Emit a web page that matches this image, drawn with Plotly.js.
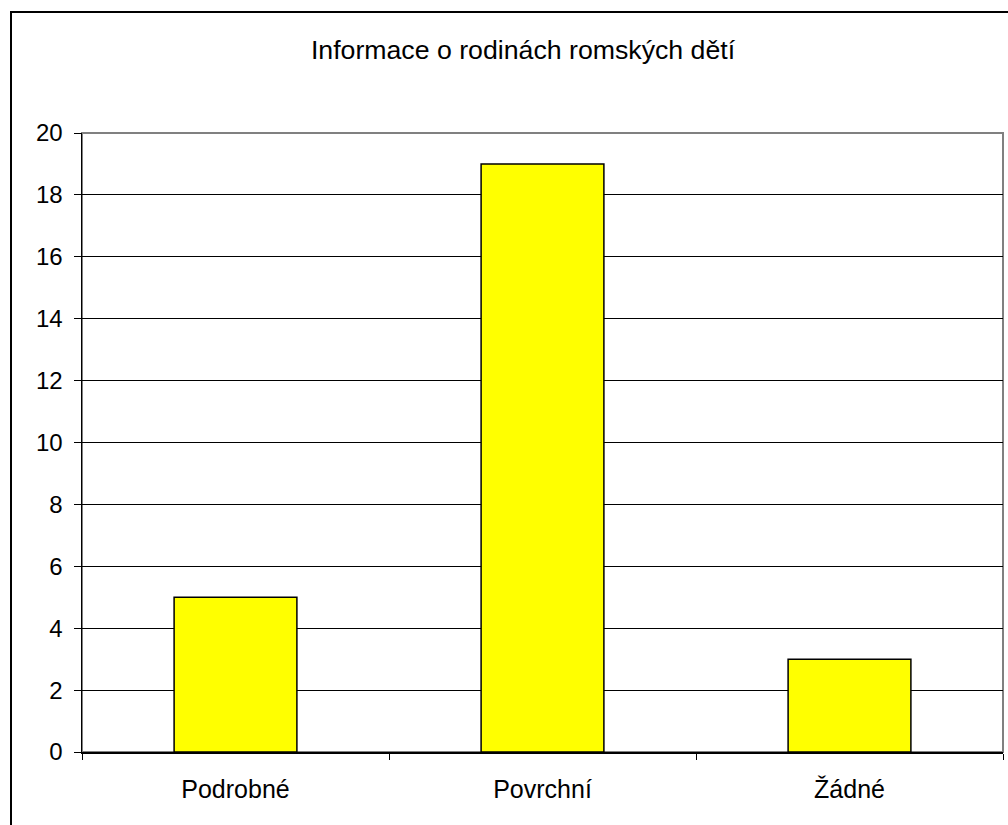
<!DOCTYPE html>
<html>
<head>
<meta charset="utf-8">
<script src="https://cdn.plot.ly/plotly-3.0.1.min.js"></script>
<style>
  html, body { margin: 0; padding: 0; overflow: hidden; background: #fff; }
  #chart { position: absolute; left: 0; top: 0; width: 1008px; height: 825px; }
  #frame { position: absolute; left: 10px; top: 11px; width: 1100px; height: 900px;
           border: 2px solid #000; pointer-events: none; }
</style>
</head>
<body>
<div id="chart"></div>
<div id="frame"></div>
<script>
const categories = ["Podrobné", "Povrchní", "Žádné"];
const counts = [5, 19, 3];
const chartTitle = "Informace o rodinách romských dětí";

const family = "Liberation Sans, Arial, sans-serif";

const trace = {
  type: "bar",
  x: categories,
  y: counts,
  marker: { color: "#FFFF00", line: { color: "#000", width: 1.5 } },
  hoverinfo: "x+y"
};

const layout = {
  width: 1008,
  height: 825,
  margin: { l: 82, r: 5, t: 133, b: 73 },
  paper_bgcolor: "#fff",
  plot_bgcolor: "#fff",
  font: { family: family, size: 25, color: "#000" },
  showlegend: false,
  bargap: 0.6,
  title: {
    text: chartTitle,
    font: { family: family, size: 26.7, color: "#000" },
    x: 523 / 1008, xanchor: "center",
    yref: "container", y: 1 - 50 / 825, yanchor: "middle"
  },
  xaxis: {
    type: "category",
    showline: true, linecolor: "#000", linewidth: 1.5,
    ticks: "outside", tickson: "boundaries", ticklen: 6, tickcolor: "#000",
    showgrid: false,
    tickfont: { family: family, size: 25, color: "#000" },
    ticklabelstandoff: 14,
    zeroline: false
  },
  yaxis: {
    range: [0, 20],
    dtick: 2,
    showline: true, linecolor: "#000", linewidth: 1.5,
    ticks: "outside", ticklen: 7, tickcolor: "#000",
    showgrid: true, gridcolor: "#000", gridwidth: 1,
    zeroline: false,
    tickfont: { family: family, size: 24, color: "#000" },
    ticklabelstandoff: 6
  },
  shapes: [{
    type: "rect", xref: "paper", yref: "paper",
    x0: 0, x1: 1, y0: 0, y1: 1,
    line: { color: "#808080", width: 2 },
    layer: "below"
  }]
};

Plotly.newPlot("chart", [trace], layout, { displayModeBar: false, staticPlot: true });
</script>
</body>
</html>
